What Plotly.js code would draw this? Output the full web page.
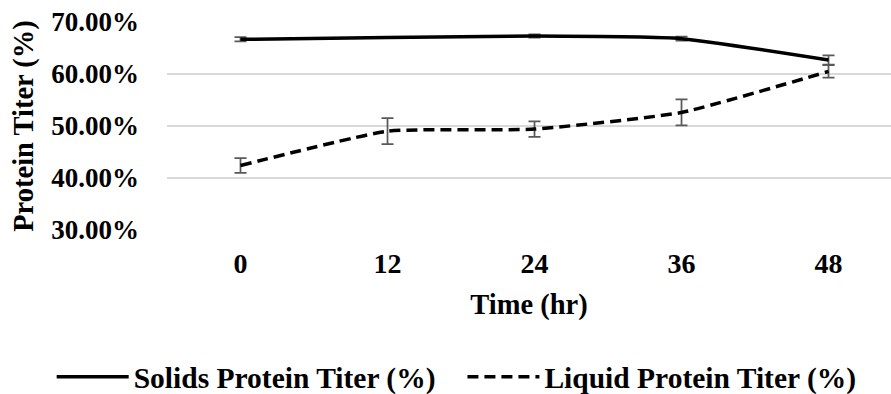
<!DOCTYPE html>
<html>
<head>
<meta charset="utf-8">
<script src="https://cdn.plot.ly/plotly-3.0.1.min.js"></script>
<style>
  html, body { margin: 0; padding: 0; background: #fff; }
  #chart { width: 891px; height: 394px; }
</style>
</head>
<body>
<div id="chart"></div>
<script>
// Sampling times (hours) used as category labels
const timeLabels = ['0', '12', '24', '36', '48'];

// Protein titer (fraction) and standard deviation for each phase
const solidsTiter = [0.6667, 0.6700, 0.6730, 0.6680, 0.6270];
const solidsErr   = [0.0040, 0.0010, 0.0030, 0.0040, 0.0090];
const liquidTiter = [0.4240, 0.4900, 0.4940, 0.5260, 0.6050];
const liquidErr   = [0.0140, 0.0250, 0.0150, 0.0250, 0.0120];

const serif = 'Liberation Serif';
const font = (size) => ({ family: serif, size: size, color: '#000', weight: 'bold' });
const errStyle = (arr) => ({
  type: 'data', array: arr, visible: true,
  color: '#595959', thickness: 1.75, width: 6
});

const traces = [
  {
    x: timeLabels, y: solidsTiter, name: 'Solids Protein Titer (%)',
    type: 'scatter', mode: 'lines', legend: 'legend',
    line: { color: '#000', width: 3.5, shape: 'spline', smoothing: 0.45 },
    error_y: errStyle(solidsErr)
  },
  {
    x: timeLabels, y: liquidTiter, name: 'Liquid Protein Titer (%)',
    type: 'scatter', mode: 'lines', legend: 'legend2',
    line: { color: '#000', width: 3.5, dash: '11px,6px', shape: 'spline', smoothing: 0.45 },
    error_y: errStyle(liquidErr)
  }
];

// One legend box per series so both sit on a single row below the axis
const legendBox = (xPos) => ({
  orientation: 'h',
  xref: 'container', yref: 'container',
  x: xPos, xanchor: 'left', y: 0.043, yanchor: 'middle',
  itemwidth: 72,
  font: font(29.5)
});

const layout = {
  width: 891, height: 394,
  margin: { l: 167, r: 0, t: 22, b: 164 },
  paper_bgcolor: '#fff', plot_bgcolor: '#fff',
  font: font(28),
  showlegend: true,
  legend: legendBox(0.058),
  legend2: legendBox(0.519),
  xaxis: {
    type: 'category',
    range: [-0.5, 4.425],
    showgrid: false, zeroline: false, showline: false,
    ticks: '', ticklabelstandoff: 14,
    tickfont: font(28),
    title: { text: 'Time (hr)', standoff: 16, font: font(28.5) },
    fixedrange: true
  },
  yaxis: {
    range: [0.30, 0.70],
    tickvals: [0.30, 0.40, 0.50, 0.60, 0.70],
    tickformat: '.2%',
    showgrid: true, gridcolor: '#d9d9d9', gridwidth: 1.5,
    zeroline: false, showline: false,
    ticks: '', ticklabelstandoff: 27,
    tickfont: font(27),
    title: { text: 'Protein Titer (%)', standoff: 9, font: font(28.5) },
    fixedrange: true
  }
};

Plotly.newPlot('chart', traces, layout, { displayModeBar: false, staticPlot: true });
</script>
</body>
</html>
